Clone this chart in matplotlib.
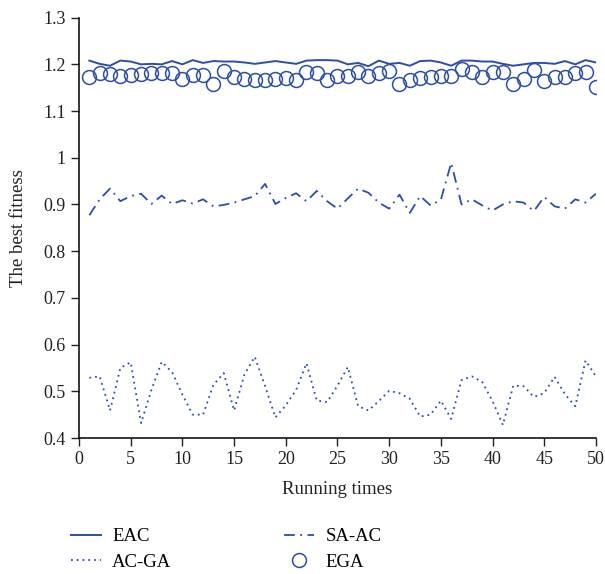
import numpy as np
import matplotlib
matplotlib.use("Agg")
import matplotlib.pyplot as plt

plt.rcParams["font.family"] = ["Liberation Serif", "DejaVu Serif"]

runs = list(range(1, 51))

eac = [1.208, 1.201, 1.197, 1.208, 1.206, 1.200, 1.201, 1.200, 1.207, 1.200,
       1.209, 1.203, 1.207, 1.206, 1.206, 1.204, 1.201, 1.204, 1.207, 1.204,
       1.201, 1.208, 1.209, 1.209, 1.208, 1.200, 1.203, 1.196, 1.208, 1.201,
       1.203, 1.197, 1.207, 1.208, 1.204, 1.197, 1.208, 1.208, 1.206, 1.206,
       1.201, 1.197, 1.200, 1.203, 1.203, 1.201, 1.207, 1.200, 1.209, 1.204]

ega = [1.172, 1.182, 1.179, 1.175, 1.177, 1.179, 1.181, 1.181, 1.182, 1.168,
       1.177, 1.177, 1.158, 1.186, 1.172, 1.168, 1.166, 1.166, 1.169, 1.170,
       1.166, 1.183, 1.182, 1.166, 1.176, 1.175, 1.183, 1.176, 1.182, 1.186,
       1.158, 1.166, 1.171, 1.172, 1.174, 1.176, 1.189, 1.183, 1.172, 1.183,
       1.184, 1.158, 1.168, 1.188, 1.165, 1.172, 1.172, 1.182, 1.183, 1.152]

sa_ac = [0.877, 0.911, 0.934, 0.907, 0.918, 0.923, 0.901, 0.919, 0.901, 0.909,
         0.902, 0.911, 0.896, 0.899, 0.904, 0.911, 0.918, 0.944, 0.901, 0.914,
         0.924, 0.907, 0.929, 0.907, 0.891, 0.913, 0.934, 0.925, 0.904, 0.891,
         0.921, 0.882, 0.918, 0.898, 0.910, 0.989, 0.900, 0.911, 0.898, 0.887,
         0.900, 0.907, 0.904, 0.886, 0.916, 0.896, 0.891, 0.911, 0.904, 0.923]

ac_ga = [0.529, 0.532, 0.459, 0.550, 0.562, 0.432, 0.503, 0.563, 0.541, 0.493,
         0.450, 0.450, 0.514, 0.539, 0.459, 0.536, 0.574, 0.511, 0.444, 0.470,
         0.503, 0.560, 0.480, 0.477, 0.512, 0.552, 0.468, 0.459, 0.479, 0.501,
         0.496, 0.484, 0.446, 0.450, 0.480, 0.441, 0.524, 0.532, 0.520, 0.479,
         0.428, 0.512, 0.511, 0.488, 0.496, 0.531, 0.494, 0.468, 0.566, 0.532]

xticks = [0, 5, 10, 15, 20, 25, 30, 35, 40, 45, 50]
yticks = [0.4, 0.5, 0.6, 0.7, 0.8, 0.9, 1.0, 1.1, 1.2, 1.3]
ytick_labels = ["0.4", "0.5", "0.6", "0.7", "0.8", "0.9", "1", "1.1", "1.2", "1.3"]

blue = "#2c4ea6"
txt = "#222222"

fig = plt.figure(figsize=(6.05, 5.74), dpi=100)
ax = fig.add_axes([0.1306, 0.2369, 0.8544, 0.7324])

ax.plot(runs, eac, color=blue, lw=1.4, label="EAC")
ax.plot(runs, ac_ga, color=blue, lw=1.3, linestyle=(0, (1, 2.2)), label="AC-GA")
ax.plot(runs, sa_ac, color=blue, lw=1.3, linestyle=(0, (6, 3, 1, 3)), label="SA-AC")
ax.plot(runs, ega, linestyle="none", marker="o", markersize=10,
        markerfacecolor="none", markeredgecolor=blue, markeredgewidth=1.1,
        label="EGA")

ax.set_xlim(0, 50)
ax.set_ylim(0.4, 1.3)
ax.set_xticks(xticks)
ax.set_yticks(yticks)
ax.set_yticklabels(ytick_labels)
ax.tick_params(direction="out", length=6, width=1, labelsize=13, colors=txt)
for side in ["top", "right"]:
    ax.spines[side].set_visible(False)
for side in ["left", "bottom"]:
    ax.spines[side].set_linewidth(1.1)

ax.set_xlabel("Running times", fontsize=13.5, color=txt, labelpad=9)
ax.set_ylabel("The best fitness", fontsize=13.5, color=txt, labelpad=12)

handles, labels = ax.get_legend_handles_labels()
fig.legend(handles, labels, ncol=2, loc="upper left",
           bbox_to_anchor=(0.105, 0.093), frameon=False, fontsize=13.5,
           handlelength=1.6, columnspacing=6.0, labelspacing=0.45,
           handletextpad=0.6, borderaxespad=0)

plt.savefig("out.png", dpi=100)
